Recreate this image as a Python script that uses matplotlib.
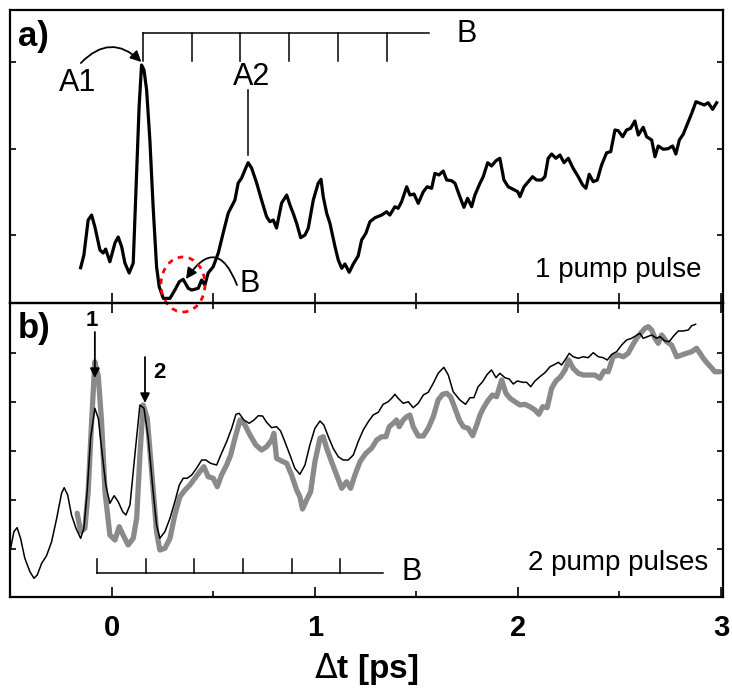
import matplotlib
matplotlib.use("Agg")
import matplotlib.pyplot as plt
from matplotlib.patches import Ellipse
from matplotlib.ticker import MultipleLocator, NullFormatter
import numpy as np

plt.rcParams['font.family'] = ['Liberation Sans', 'DejaVu Sans']

# ---- panel a): single pump pulse -------------------------------------------
t_single = [-0.154, -0.138, -0.117, -0.100, -0.084, -0.059, -0.043, -0.031, -0.010, 0.015,
            0.031, 0.048, 0.064, 0.085, 0.105, 0.122, 0.134, 0.146, 0.158, 0.171,
            0.187, 0.203, 0.220, 0.233, 0.253, 0.286, 0.310, 0.332, 0.351, 0.376,
            0.393, 0.425, 0.442, 0.458, 0.474, 0.499, 0.524, 0.548, 0.573, 0.606,
            0.622, 0.639, 0.655, 0.671, 0.688, 0.713, 0.737, 0.762, 0.778, 0.795,
            0.811, 0.836, 0.861, 0.877, 0.893, 0.910, 0.930, 0.951, 0.967, 0.992,
            1.016, 1.030, 1.041, 1.058, 1.074, 1.099, 1.115, 1.132, 1.148, 1.169,
            1.189, 1.213, 1.230, 1.251, 1.271, 1.296, 1.329, 1.353, 1.369, 1.394,
            1.410, 1.427, 1.452, 1.468, 1.488, 1.509, 1.534, 1.553, 1.575, 1.591,
            1.611, 1.632, 1.649, 1.673, 1.690, 1.714, 1.734, 1.752, 1.772, 1.788,
            1.813, 1.829, 1.851, 1.870, 1.892, 1.911, 1.931, 1.952, 1.977, 1.999,
            2.010, 2.030, 2.051, 2.072, 2.092, 2.117, 2.133, 2.149, 2.166, 2.187,
            2.207, 2.227, 2.248, 2.272, 2.297, 2.319, 2.335, 2.351, 2.371, 2.391,
            2.412, 2.437, 2.457, 2.478, 2.494, 2.516, 2.535, 2.555, 2.576, 2.593,
            2.617, 2.634, 2.659, 2.675, 2.691, 2.716, 2.740, 2.762, 2.778, 2.795,
            2.814, 2.839, 2.856, 2.877, 2.897, 2.918, 2.937, 2.959, 2.979]
s_single = [0.622, 0.769, 1.173, 1.231, 1.096, 0.827, 0.792, 0.838, 0.691, 0.908,
            0.977, 0.865, 0.676, 0.561, 0.676, 1.717, 2.483, 2.965, 2.908, 2.676,
            2.098, 1.327, 0.634, 0.402, 0.268, 0.268, 0.364, 0.460, 0.488, 0.384,
            0.364, 0.384, 0.480, 0.422, 0.561, 0.634, 0.792, 1.023, 1.254, 1.405,
            1.601, 1.659, 1.751, 1.836, 1.775, 1.601, 1.405, 1.212, 1.154, 1.173,
            1.081, 1.370, 1.462, 1.347, 1.251, 1.135, 0.969, 1.000, 1.077, 1.405,
            1.598, 1.644, 1.443, 1.251, 1.135, 0.865, 0.711, 0.615, 0.665, 0.569,
            0.665, 0.757, 0.942, 1.020, 1.154, 1.200, 1.231, 1.269, 1.231, 1.327,
            1.309, 1.385, 1.558, 1.462, 1.474, 1.366, 1.501, 1.558, 1.540, 1.713,
            1.694, 1.740, 1.636, 1.628, 1.598, 1.443, 1.320, 1.424, 1.327, 1.462,
            1.598, 1.674, 1.836, 1.798, 1.859, 1.887, 1.636, 1.558, 1.528, 1.501,
            1.443, 1.558, 1.616, 1.674, 1.636, 1.636, 1.674, 1.887, 1.936, 1.887,
            1.925, 1.836, 1.887, 1.771, 1.674, 1.578, 1.540, 1.702, 1.616, 1.636,
            1.809, 1.951, 1.963, 2.214, 2.206, 2.136, 2.214, 2.233, 2.318, 2.156,
            2.245, 2.136, 2.098, 1.905, 2.029, 1.991, 1.998, 2.029, 1.936, 2.098,
            2.164, 2.310, 2.407, 2.541, 2.523, 2.503, 2.529, 2.453, 2.529]

# ---- panel b): two pump pulses, thin black trace ----------------------------
t_double_a = [-0.502, -0.483, -0.467, -0.450, -0.429, -0.404, -0.384, -0.368, -0.346, -0.322,
              -0.297, -0.272, -0.248, -0.235, -0.218, -0.199, -0.177, -0.154, -0.138, -0.122,
              -0.105, -0.084, -0.067, -0.051, -0.030, -0.010, 0.011, 0.031, 0.053, 0.069,
              0.089, 0.113, 0.138, 0.158, 0.179, 0.203, 0.220, 0.236, 0.261, 0.286,
              0.310, 0.332, 0.351, 0.371, 0.393, 0.417, 0.442, 0.463, 0.486, 0.516,
              0.540, 0.565, 0.590, 0.611, 0.627, 0.650, 0.676, 0.700, 0.721, 0.742,
              0.762, 0.787, 0.811, 0.831, 0.852, 0.877, 0.901, 0.926, 0.951, 0.975,
              1.000, 1.025, 1.044, 1.066, 1.090, 1.115, 1.139, 1.164, 1.189, 1.213,
              1.238, 1.263, 1.287, 1.312, 1.336, 1.361, 1.378, 1.394, 1.410, 1.435,
              1.460, 1.484, 1.509, 1.534, 1.558, 1.583, 1.607, 1.635, 1.657, 1.681,
              1.714, 1.742, 1.764, 1.783, 1.804, 1.826, 1.849, 1.870, 1.892, 1.911,
              1.936, 1.957, 1.977, 1.997, 2.023, 2.043, 2.063, 2.084, 2.108, 2.133,
              2.158, 2.182, 2.199, 2.215, 2.232, 2.253, 2.272, 2.297, 2.322, 2.346,
              2.371, 2.396, 2.420, 2.440, 2.462, 2.486, 2.511, 2.535, 2.560, 2.581,
              2.601, 2.617, 2.637, 2.659, 2.683, 2.700, 2.724, 2.745, 2.768, 2.790,
              2.814, 2.839, 2.856, 2.875]
s_double_a = [0.945, 1.353, 1.435, 1.218, 0.810, 0.537, 0.402, 0.469, 0.708, 0.863,
              1.149, 1.627, 2.137, 2.251, 2.102, 1.694, 1.422, 1.218, 1.422, 2.169,
              3.259, 3.871, 3.667, 3.055, 2.306, 1.933, 2.088, 1.965, 1.761, 1.694,
              1.898, 2.918, 3.939, 3.871, 3.259, 2.169, 1.490, 1.218, 1.353, 1.627,
              1.965, 2.306, 2.443, 2.443, 2.510, 2.647, 2.816, 2.816, 2.749, 2.714,
              2.953, 3.190, 3.463, 3.749, 3.769, 3.633, 3.565, 3.633, 3.720, 3.714,
              3.586, 3.476, 3.496, 3.408, 3.190, 2.918, 2.647, 2.524, 2.714, 3.122,
              3.463, 3.612, 3.531, 3.292, 3.055, 2.884, 2.816, 2.816, 2.918, 3.190,
              3.429, 3.598, 3.735, 3.790, 3.953, 4.006, 4.076, 4.157, 4.076, 3.973,
              4.006, 3.884, 3.973, 4.143, 4.198, 4.382, 4.586, 4.708, 4.551, 4.210,
              4.041, 3.953, 4.088, 4.088, 4.312, 4.414, 4.565, 4.653, 4.496, 4.586,
              4.496, 4.469, 4.367, 4.429, 4.402, 4.402, 4.312, 4.429, 4.516, 4.598,
              4.720, 4.769, 4.810, 4.755, 4.857, 4.994, 4.924, 4.892, 4.924, 4.904,
              5.006, 4.924, 4.904, 4.857, 4.973, 5.027, 5.163, 5.265, 5.300, 5.353,
              5.402, 5.300, 5.333, 5.367, 5.300, 5.333, 5.245, 5.231, 5.353, 5.449,
              5.449, 5.469, 5.557, 5.586]

# ---- panel b): two pump pulses, thick grey trace ----------------------------
t_double_b = [-0.171, -0.154, -0.133, -0.117, -0.100, -0.084, -0.067, -0.051, -0.034, -0.010,
              0.015, 0.036, 0.059, 0.080, 0.105, 0.122, 0.138, 0.154, 0.174, 0.196,
              0.220, 0.236, 0.261, 0.286, 0.310, 0.335, 0.360, 0.384, 0.409, 0.433,
              0.453, 0.474, 0.499, 0.519, 0.540, 0.565, 0.585, 0.606, 0.631, 0.655,
              0.680, 0.709, 0.737, 0.762, 0.787, 0.798, 0.811, 0.836, 0.861, 0.885,
              0.910, 0.926, 0.939, 0.959, 0.979, 1.000, 1.025, 1.041, 1.058, 1.082,
              1.107, 1.132, 1.156, 1.176, 1.197, 1.222, 1.251, 1.279, 1.304, 1.329,
              1.350, 1.366, 1.386, 1.402, 1.415, 1.435, 1.452, 1.468, 1.484, 1.509,
              1.534, 1.558, 1.583, 1.607, 1.629, 1.649, 1.668, 1.690, 1.711, 1.731,
              1.755, 1.777, 1.797, 1.813, 1.829, 1.854, 1.875, 1.895, 1.920, 1.941,
              1.961, 1.985, 2.010, 2.034, 2.059, 2.084, 2.103, 2.122, 2.144, 2.166,
              2.187, 2.210, 2.232, 2.251, 2.272, 2.297, 2.322, 2.355, 2.379, 2.404,
              2.424, 2.445, 2.469, 2.494, 2.519, 2.543, 2.565, 2.585, 2.604, 2.626,
              2.642, 2.659, 2.675, 2.691, 2.708, 2.732, 2.757, 2.782, 2.806, 2.831,
              2.856, 2.880, 2.897, 2.913, 2.933, 2.949, 2.970, 2.995]
s_double_b = [1.729, 1.353, 1.422, 2.169, 3.598, 4.822, 4.516, 3.598, 2.169, 1.286,
              1.184, 1.455, 1.251, 1.082, 1.218, 1.627, 2.918, 3.939, 3.667, 2.578,
              1.353, 0.980, 1.014, 1.218, 1.694, 2.067, 2.204, 2.306, 2.443, 2.578,
              2.680, 2.476, 2.443, 2.271, 2.510, 2.714, 2.918, 3.259, 3.633, 3.531,
              3.327, 3.122, 3.020, 3.088, 3.224, 3.361, 2.851, 2.796, 2.749, 2.510,
              2.204, 2.067, 1.816, 2.000, 2.169, 2.782, 3.259, 3.292, 3.055, 2.782,
              2.510, 2.239, 2.373, 2.239, 2.510, 2.782, 2.953, 3.055, 3.224, 3.292,
              3.292, 3.496, 3.565, 3.633, 3.496, 3.633, 3.700, 3.735, 3.496, 3.306,
              3.306, 3.463, 3.700, 4.041, 4.157, 4.178, 4.108, 3.871, 3.633, 3.496,
              3.463, 3.312, 3.531, 3.735, 3.871, 4.041, 4.143, 4.108, 4.449, 4.178,
              4.076, 4.006, 3.939, 3.953, 3.904, 3.837, 3.749, 3.904, 3.884, 4.280,
              4.429, 4.516, 4.653, 4.857, 4.688, 4.586, 4.551, 4.551, 4.551, 4.484,
              4.633, 4.618, 4.924, 4.959, 4.924, 4.994, 5.163, 5.300, 5.402, 5.504,
              5.537, 5.469, 5.300, 5.198, 5.367, 5.231, 5.163, 4.924, 4.959, 4.994,
              5.027, 5.096, 4.994, 4.892, 4.790, 4.720, 4.618, 4.618]

# Tick marks and labels of the time axis
time_ticks = [0, 1, 2, 3]
time_labels = ['0', '1', '2', '3']

# Period comb of oscillation B (ps)
comb_period = 0.24
comb_count = 6
comb_start_a = 0.153
comb_start_b = -0.074

# ---------------------------------------------------------------------------
fig = plt.figure(figsize=(7.32, 6.89), dpi=100)
ax_a = fig.add_axes([0.01366, 0.5602, 0.9740, 0.4253])
ax_b = fig.add_axes([0.01366, 0.1335, 0.9740, 0.4267])
for ax in (ax_a, ax_b):
    ax.patch.set_alpha(0)
    for sp in ax.spines.values():
        sp.set_linewidth(1.6)
    ax.set_xlim(-0.502, 3.01)
    ax.yaxis.set_major_formatter(NullFormatter())
    ax.tick_params(axis='y', which='both', direction='in', left=True, right=True,
                   length=4.5, width=1.2)

ax_a.set_ylim(0.214, 3.601)
ax_a.set_yticks([1, 2, 3])
ax_a.xaxis.set_major_locator(MultipleLocator(0.5))
ax_a.xaxis.set_major_formatter(NullFormatter())
ax_a.tick_params(axis='x', which='major', direction='in', bottom=True, top=False,
                 length=7, width=1.2)

ax_b.set_ylim(0.02, 6.02)
ax_b.set_yticks([1, 2, 3, 4, 5])
ax_b.set_xticks(time_ticks)
ax_b.set_xticklabels(time_labels, fontsize=21, fontweight='bold')
ax_b.xaxis.set_minor_locator(MultipleLocator(0.5))
ax_b.tick_params(axis='x', which='major', direction='in', bottom=True, top=True,
                 length=7, width=1.2, pad=12)
ax_b.tick_params(axis='x', which='minor', direction='in', bottom=True, top=True,
                 length=4, width=1.2)
ax_b.set_xlabel(r'$\Delta$t [ps]', fontsize=24, fontweight='bold', labelpad=7)

# ---- traces ---------------------------------------------------------------
ax_a.plot(t_single, s_single, color='black', lw=2.3, solid_joinstyle='round')
ax_b.plot(t_double_b, s_double_b, color='#8a8a8a', lw=3.8, solid_joinstyle='round',
          solid_capstyle='round')
ax_b.plot(t_double_a, s_double_a, color='black', lw=1.1)

# ---- period combs -----------------------------------------------------------
def draw_comb(ax, start, y_line, y_tip):
    ticks = start + comb_period * np.arange(comb_count)
    end = start + comb_period * (comb_count - 1) + 0.21
    ax.plot([start, end], [y_line, y_line], color='black', lw=1.1)
    for tk in ticks:
        ax.plot([tk, tk], [y_line, y_tip], color='black', lw=1.1)
    return end

draw_comb(ax_a, comb_start_a, 3.335, 3.012)
ax_a.text(1.749, 3.32, 'B', fontsize=22, ha='center', va='center')
draw_comb(ax_b, comb_start_b, 0.510, 0.796)
ax_b.text(1.478, 0.531, 'B', fontsize=22, ha='center', va='center')

# ---- panel a) annotations ---------------------------------------------------
ax_a.text(0.011, 0.908, 'a)', transform=ax_a.transAxes, fontsize=25,
          fontweight='bold', ha='left', va='center')
ax_a.text(-0.167, 2.757, 'A1', fontsize=22, ha='center', va='center')
ax_a.annotate('', xy=(0.145, 3.0), xytext=(-0.153, 2.988),
              arrowprops=dict(arrowstyle='-|>', connectionstyle='arc3,rad=-0.5',
                              color='black', lw=1.3, mutation_scale=16,
                              shrinkA=0, shrinkB=0))
ax_a.text(0.690, 2.827, 'A2', fontsize=22, ha='center', va='center')
ax_a.plot([0.670, 0.670], [2.676, 1.925], color='black', lw=1.1)
ax_a.text(0.680, 0.434, 'B', fontsize=22, ha='center', va='center')
ax_a.annotate('', xy=(0.365, 0.491), xytext=(0.616, 0.422),
              arrowprops=dict(arrowstyle='-|>', connectionstyle='arc3,rad=0.95',
                              color='black', lw=1.3, mutation_scale=16,
                              shrinkA=0, shrinkB=0))
circle = Ellipse((0.350, 0.428), width=0.217, height=0.636, fill=False,
                 edgecolor='red', lw=2.0, ls=(0, (2, 2)), clip_on=False, zorder=10)
ax_a.add_patch(circle)
ax_a.text(0.9705, 0.113, '1 pump pulse', transform=ax_a.transAxes, fontsize=20,
          ha='right', va='center')

# ---- panel b) annotations ---------------------------------------------------
ax_b.text(0.011, 0.915, 'b)', transform=ax_b.transAxes, fontsize=25,
          fontweight='bold', ha='left', va='center')
ax_b.text(-0.099, 5.673, '1', fontsize=16, fontweight='bold', ha='center', va='center')
ax_b.annotate('', xy=(-0.084, 4.490), xytext=(-0.084, 5.429),
              arrowprops=dict(arrowstyle='-|>', color='black', lw=1.3,
                              mutation_scale=14, shrinkA=0, shrinkB=0))
ax_b.text(0.232, 4.592, '2', fontsize=16, fontweight='bold', ha='center', va='center')
ax_b.annotate('', xy=(0.163, 3.980), xytext=(0.163, 4.918),
              arrowprops=dict(arrowstyle='-|>', color='black', lw=1.3,
                              mutation_scale=14, shrinkA=0, shrinkB=0))
ax_b.text(0.979, 0.116, '2 pump pulses', transform=ax_b.transAxes, fontsize=20,
          ha='right', va='center')

fig.savefig('out.png', dpi=100)
